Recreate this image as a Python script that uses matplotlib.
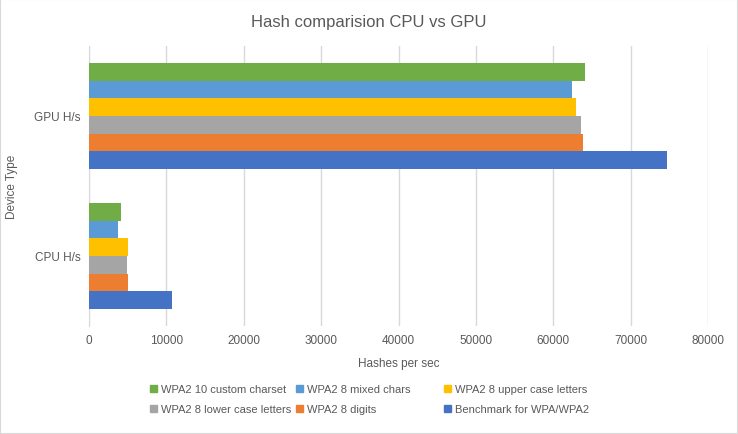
import numpy as np
import matplotlib.pyplot as plt
from matplotlib.patches import Patch, Rectangle

# Données
categories = ["CPU H/s", "GPU H/s"]
series_names = ["WPA2 10 custom charset", "WPA2 8 mixed chars", "WPA2 8 upper case letters",
                "WPA2 8 lower case letters", "WPA2 8 digits", "Benchmark for WPA/WPA2"]
cpu_values = [4190, 3800, 5100, 4970, 5100, 10670]
gpu_values = [64150, 62460, 62990, 63620, 63880, 74660]
colors = ["#70AD47", "#5B9BD5", "#FFC000", "#A5A5A5", "#ED7D31", "#4472C4"]
x_ticks = [0, 10000, 20000, 30000, 40000, 50000, 60000, 70000, 80000]

plt.rcParams['font.family'] = ['Liberation Sans', 'DejaVu Sans']
text_col = "#595959"

fig = plt.figure(figsize=(7.38, 4.35), dpi=100)
ax = fig.add_axes([89 / 738, 1 - 327 / 435, (708 - 89) / 738, (327 - 47) / 435])

n = len(series_names)
group = 0.76
h = group / n
y_pos = np.arange(len(categories))
for i in range(n):
    vals = [cpu_values[i], gpu_values[i]]
    # première série en haut du groupe
    offs = group / 2 - h / 2 - i * h
    ax.barh(y_pos + offs, vals, height=h, color=colors[i], zorder=3)

ax.set_ylim(-0.5, 1.5)
ax.set_xlim(0, 80000)
ax.set_xticks(x_ticks)
ax.set_xticklabels([str(v) for v in x_ticks], color=text_col, fontsize=8.5)
ax.set_yticks(y_pos)
ax.set_yticklabels(categories, color=text_col, fontsize=8.5)
ax.tick_params(length=0, pad=6)
ax.grid(axis='x', color="#D9D9D9", linewidth=1, zorder=0)
for s in ["top", "right", "bottom"]:
    ax.spines[s].set_visible(False)
ax.spines["left"].set_color("#D9D9D9")

ax.set_xlabel("Hashes per sec", color=text_col, fontsize=8.5, labelpad=8)
ax.set_ylabel("Device Type", color=text_col, fontsize=8.5, labelpad=12)
fig.text(0.5, 1 - 22 / 435, "Hash comparision CPU vs GPU", ha='center', va='center',
         color=text_col, fontsize=12)

# Légende : trois colonnes de même largeur, une légende par colonne
handles = [Patch(color=c) for c in colors]
col_x = [150, 296, 444]
for j in range(3):
    idx = [j, j + 3]
    fig.legend([handles[k] for k in idx], [series_names[k] for k in idx],
               ncol=1, frameon=False, loc='center left',
               bbox_to_anchor=(col_x[j] / 738, 1 - 400 / 435),
               borderpad=0, borderaxespad=0,
               fontsize=8, labelcolor=text_col, handlelength=0.6, handleheight=0.6,
               handletextpad=0.4, labelspacing=0.9)

fig.add_artist(Rectangle((0, 0), 1, 1, transform=fig.transFigure, fill=False,
                         edgecolor="#D9D9D9", linewidth=1.5))

fig.savefig("out.png", dpi=100)
